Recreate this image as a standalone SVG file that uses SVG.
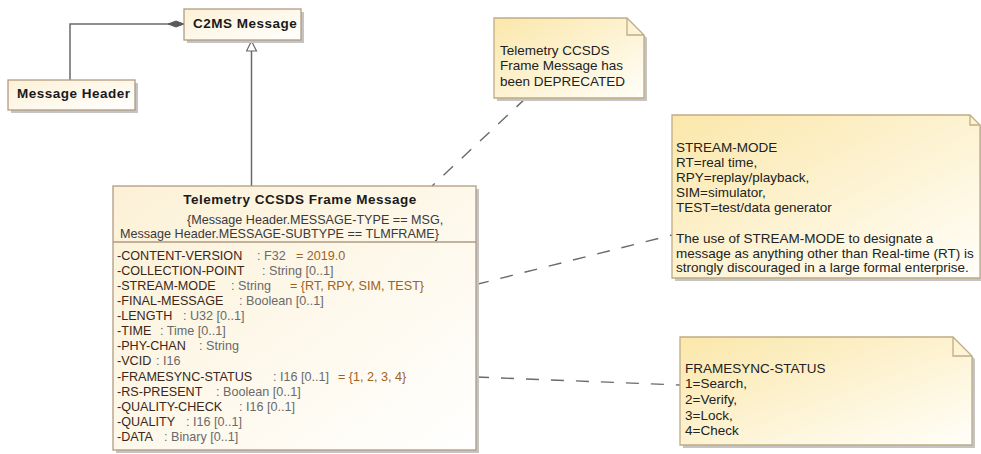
<svg xmlns="http://www.w3.org/2000/svg" width="981" height="454" viewBox="0 0 981 454">
<defs>
<linearGradient id="gClass" x1="0" y1="0" x2="1" y2="1">
<stop offset="0" stop-color="#fcf1d6"/>
<stop offset="1" stop-color="#ffffff"/>
</linearGradient>
<linearGradient id="gNote" x1="0" y1="0" x2="1" y2="1">
<stop offset="0" stop-color="#fbe7aa"/>
<stop offset="1" stop-color="#fffef9"/>
</linearGradient>
<marker id="diamond" markerWidth="18" markerHeight="8" refX="17" refY="4" orient="auto" markerUnits="userSpaceOnUse">
<path d="M1,4 L9,1 L17,4 L9,7 Z" fill="#5a5a5a" stroke="#5a5a5a" stroke-width="1"/>
</marker>
<marker id="triangle" markerWidth="14" markerHeight="14" refX="11" refY="6" orient="auto" markerUnits="userSpaceOnUse">
<path d="M1,1 L11,6 L1,11 Z" fill="#ffffff" stroke="#666666" stroke-width="1.2"/>
</marker>
</defs>
<style>
.box{fill:url(#gClass);stroke:#b19a80;stroke-width:1.3}
.shadow{fill:#c4c4c4}
.note{fill:url(#gNote);stroke:#c0ac84;stroke-width:1.3}
.fold{fill:none;stroke:#c0ac84;stroke-width:1.3}
.title{font-family:"Liberation Sans",Arial,sans-serif;font-weight:bold;font-size:13.5px;letter-spacing:0.5px;fill:#1a1a1a}
.txt{font-family:"Liberation Sans",Arial,sans-serif;font-size:12.6px;fill:#3a3a3a}
.nm{fill:#3b2618}
.ty{fill:#6a6a6a}
.dv{fill:#a0621c}
.ntxt{font-family:"Liberation Sans",Arial,sans-serif;font-size:13.5px;fill:#222222}
.line{fill:none;stroke:#6a6a6a;stroke-width:1.5}
.dash{fill:none;stroke:#6a6a6a;stroke-width:1.4;stroke-dasharray:13 12}
.anchor{fill:none;stroke:#a88a6c;stroke-width:1.1}
</style>

<g id="connectors">
<polyline class="line" points="70,80 70,24 184,24" marker-end="url(#diamond)"/>
<line class="line" x1="251.5" y1="186" x2="251.5" y2="41" marker-end="url(#triangle)"/>
<line class="dash" x1="526" y1="98" x2="432" y2="186"/>
<line class="dash" x1="476" y1="284.5" x2="672" y2="235"/>
<line class="dash" x1="476" y1="377" x2="680" y2="385"/>
<circle class="anchor" cx="473" cy="285" r="3"/>
<circle class="anchor" cx="473" cy="377" r="3"/>
</g>

<g id="c2ms-message">
<rect class="shadow" x="187" y="12" width="117" height="31"/>
<rect class="box" x="184" y="9" width="117" height="31"/>
<text class="title" x="193" y="28">C2MS Message</text>
</g>

<g id="message-header">
<rect class="shadow" x="11" y="83" width="127" height="30"/>
<rect class="box" x="8" y="80" width="127" height="30"/>
<text class="title" x="17" y="98">Message Header</text>
</g>

<g id="telemetry-ccsds-frame-message">
<rect class="shadow" x="116" y="189" width="363" height="264"/>
<rect class="box" x="113" y="186" width="363" height="264"/>
<line x1="113" y1="242" x2="476" y2="242" stroke="#b19a80" stroke-width="1.3"/>
<text class="title" x="300" y="204" text-anchor="middle">Telemetry CCSDS Frame Message</text>
<text class="txt" x="187" y="223.5">{Message Header.MESSAGE-TYPE == MSG,</text>
<text class="txt" x="120" y="237.5">Message Header.MESSAGE-SUBTYPE == TLMFRAME}</text>
<g class="txt">
<text class="nm" x="117" y="259.5">-CONTENT-VERSION</text><text class="ty" x="257" y="259.5">: F32</text><text class="dv" x="296" y="259.5">= 2019.0</text>
<text class="nm" x="117" y="274.7">-COLLECTION-POINT</text><text class="ty" x="262" y="274.7">: String [0..1]</text>
<text class="nm" x="117" y="289.9">-STREAM-MODE</text><text class="ty" x="231" y="289.9">: String</text><text class="dv" x="290" y="289.9">= {RT, RPY, SIM, TEST}</text>
<text class="nm" x="117" y="305">-FINAL-MESSAGE</text><text class="ty" x="239" y="305">: Boolean [0..1]</text>
<text class="nm" x="117" y="320.1">-LENGTH</text><text class="ty" x="183" y="320.1">: U32 [0..1]</text>
<text class="nm" x="117" y="335.2">-TIME</text><text class="ty" x="160" y="335.2">: Time [0..1]</text>
<text class="nm" x="117" y="350.3">-PHY-CHAN</text><text class="ty" x="199" y="350.3">: String</text>
<text class="nm" x="117" y="365.4">-VCID</text><text class="ty" x="156" y="365.4">: I16</text>
<text class="nm" x="117" y="380.5">-FRAMESYNC-STATUS</text><text class="ty" x="273" y="380.5">: I16 [0..1]</text><text class="dv" x="338" y="380.5">= {1, 2, 3, 4}</text>
<text class="nm" x="117" y="395.6">-RS-PRESENT</text><text class="ty" x="216" y="395.6">: Boolean [0..1]</text>
<text class="nm" x="117" y="410.7">-QUALITY-CHECK</text><text class="ty" x="239" y="410.7">: I16 [0..1]</text>
<text class="nm" x="117" y="425.8">-QUALITY</text><text class="ty" x="186" y="425.8">: I16 [0..1]</text>
<text class="nm" x="117" y="440.9">-DATA</text><text class="ty" x="164" y="440.9">: Binary [0..1]</text>
</g>
</g>

<g id="note-deprecated">
<path class="shadow" d="M497,21 H630 L647,38 V101 H497 Z"/>
<path class="note" d="M494,18 H627 L644,35 V98 H494 Z"/>
<path class="fold" d="M627,18 V35 H644"/>
<text class="ntxt" x="500" y="55">Telemetry CCSDS</text>
<text class="ntxt" x="500" y="70">Frame Message has</text>
<text class="ntxt" x="500" y="86">been DEPRECATED</text>
</g>

<g id="note-stream-mode">
<path class="shadow" d="M675,118 H973 L983,128 V281 H675 Z"/>
<path class="note" d="M672,115 H970 L980,125 V278 H672 Z"/>
<path class="fold" d="M970,115 V125 H980"/>
<text class="ntxt" x="676" y="152">STREAM-MODE</text>
<text class="ntxt" x="676" y="167">RT=real time,</text>
<text class="ntxt" x="676" y="182">RPY=replay/playback,</text>
<text class="ntxt" x="676" y="197">SIM=simulator,</text>
<text class="ntxt" x="676" y="212">TEST=test/data generator</text>
<text class="ntxt" x="676" y="243">The use of STREAM-MODE to designate a</text>
<text class="ntxt" x="676" y="258">message as anything other than Real-time (RT) is</text>
<text class="ntxt" x="676" y="272">strongly discouraged in a large formal enterprise.</text>
</g>

<g id="note-framesync-status">
<path class="shadow" d="M683,340 H956 L975,359 V448 H683 Z"/>
<path class="note" d="M680,337 H953 L972,356 V445 H680 Z"/>
<path class="fold" d="M953,337 V356 H972"/>
<text class="ntxt" x="685" y="373">FRAMESYNC-STATUS</text>
<text class="ntxt" x="685" y="388">1=Search,</text>
<text class="ntxt" x="685" y="404">2=Verify,</text>
<text class="ntxt" x="685" y="420">3=Lock,</text>
<text class="ntxt" x="685" y="435">4=Check</text>
</g>
</svg>
